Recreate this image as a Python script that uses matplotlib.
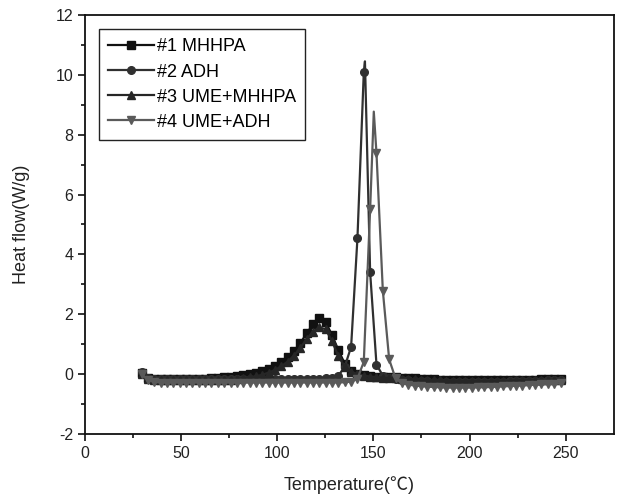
# DSC curves of four curing systems (heat flow vs temperature)

import matplotlib.pyplot as plt

# fonts
plt.rcParams['font.family'] = ['Liberation Sans', 'Noto Sans CJK SC', 'DejaVu Sans']
plt.rcParams['axes.unicode_minus'] = False

# temperature of each measured point (shared by all curves)
temperature = [
    29.5, 32.8, 36.1, 39.4, 42.7, 46.0, 49.3, 52.6, 55.9, 59.2,
    62.5, 65.8, 69.1, 72.4, 75.7, 79.0, 82.3, 85.6, 88.9, 92.2,
    95.5, 98.8, 102.1, 105.4, 108.7, 112.0, 115.3, 118.6, 121.9, 125.2,
    128.5, 131.8, 135.1, 138.4, 141.7, 145.0, 148.3, 151.6, 154.9, 158.2,
    161.5, 164.8, 168.1, 171.4, 174.7, 178.0, 181.3, 184.6, 187.9, 191.2,
    194.5, 197.8, 201.1, 204.4, 207.7, 211.0, 214.3, 217.6, 220.9, 224.2,
    227.5, 230.8, 234.1, 237.4, 240.7, 244.0, 247.3,
]

# #1 MHHPA
mhhpa = [
    0.05, -0.12, -0.16, -0.17, -0.17, -0.17, -0.17, -0.17, -0.16, -0.16,
    -0.15, -0.14, -0.12, -0.10, -0.08, -0.05, -0.02, 0.01, 0.05, 0.10,
    0.18, 0.28, 0.40, 0.57, 0.78, 1.03, 1.37, 1.66, 1.88, 1.74,
    1.30, 0.80, 0.35, 0.10, 0.02, -0.03, -0.06, -0.08, -0.09, -0.10,
    -0.11, -0.12, -0.13, -0.14, -0.15, -0.16, -0.17, -0.18, -0.19, -0.20,
    -0.20, -0.21, -0.21, -0.21, -0.21, -0.21, -0.20, -0.20, -0.20, -0.19,
    -0.19, -0.18, -0.18, -0.17, -0.17, -0.16, -0.16,
]

# #2 ADH (apex point added between 145.0 and 148.3)
adh_temperature = temperature[:36] + [145.6] + temperature[36:]
adh = [
    0.08, -0.12, -0.15, -0.16, -0.16, -0.16, -0.16, -0.16, -0.16, -0.16,
    -0.16, -0.16, -0.16, -0.16, -0.16, -0.16, -0.16, -0.16, -0.16, -0.16,
    -0.16, -0.16, -0.16, -0.16, -0.16, -0.16, -0.16, -0.15, -0.15, -0.14,
    -0.12, -0.05, 0.25, 0.91, 4.54, 10.09, 10.45, 3.40, 0.32, -0.05,
    -0.12, -0.16, -0.18, -0.20, -0.22, -0.23, -0.24, -0.25, -0.26, -0.26,
    -0.27, -0.27, -0.27, -0.27, -0.27, -0.26, -0.26, -0.25, -0.25, -0.24,
    -0.24, -0.23, -0.23, -0.22, -0.22, -0.21, -0.21, -0.20,
]
adh_markers = list(range(36)) + list(range(37, 68))

# #3 UME+MHHPA
ume_mhhpa = [
    0.00, -0.15, -0.19, -0.20, -0.20, -0.20, -0.20, -0.20, -0.20, -0.20,
    -0.20, -0.20, -0.20, -0.19, -0.18, -0.16, -0.14, -0.11, -0.07, -0.02,
    0.05, 0.14, 0.26, 0.42, 0.62, 0.88, 1.17, 1.42, 1.56, 1.50,
    1.10, 0.60, 0.25, 0.08, 0.00, -0.05, -0.08, -0.10, -0.12, -0.13,
    -0.14, -0.15, -0.16, -0.17, -0.18, -0.19, -0.20, -0.21, -0.22, -0.22,
    -0.23, -0.23, -0.23, -0.23, -0.23, -0.23, -0.22, -0.22, -0.22, -0.21,
    -0.21, -0.21, -0.20, -0.20, -0.20, -0.19, -0.19,
]

# #4 UME+ADH (apex point added between 148.3 and 151.6)
ume_adh_temperature = temperature[:37] + [150.2] + temperature[37:]
ume_adh = [
    0.00, -0.20, -0.26, -0.28, -0.28, -0.28, -0.28, -0.28, -0.28, -0.28,
    -0.28, -0.28, -0.28, -0.28, -0.28, -0.28, -0.28, -0.28, -0.28, -0.28,
    -0.28, -0.28, -0.28, -0.28, -0.28, -0.28, -0.28, -0.28, -0.28, -0.28,
    -0.28, -0.28, -0.27, -0.25, -0.15, 0.41, 5.51, 8.77, 7.38, 2.79,
    0.49, -0.14, -0.30, -0.35, -0.38, -0.40, -0.42, -0.43, -0.44, -0.45,
    -0.45, -0.45, -0.45, -0.45, -0.44, -0.44, -0.43, -0.42, -0.41, -0.40,
    -0.39, -0.38, -0.37, -0.35, -0.34, -0.33, -0.32, -0.31,
]
ume_adh_markers = list(range(37)) + list(range(38, 68))

# crear figura
fig = plt.figure(figsize=(6.2, 4.98), dpi=100)
ax = fig.add_axes([0.137, 0.1285, 0.853, 0.8415])

ax.plot(
    temperature, mhhpa,
    color="#111111", lw=1.6,
    marker="s", markersize=5.5,
    label="#1 MHHPA"
)
ax.plot(
    adh_temperature, adh,
    color="#303030", lw=1.6,
    marker="o", markersize=5.5, markevery=adh_markers,
    label="#2 ADH"
)
ax.plot(
    temperature, ume_mhhpa,
    color="#262626", lw=1.6,
    marker="^", markersize=6,
    label="#3 UME+MHHPA"
)
ax.plot(
    ume_adh_temperature, ume_adh,
    color="#5a5a5a", lw=1.6,
    marker="v", markersize=6, markevery=ume_adh_markers,
    label="#4 UME+ADH"
)

# limites
ax.set_xlim(0, 275)
ax.set_ylim(-2, 12)
ax.set_xticks([0, 50, 100, 150, 200, 250])
ax.set_xticks([25, 75, 125, 175, 225], minor=True)
ax.set_yticks([-2, 0, 2, 4, 6, 8, 10, 12])
ax.set_yticks([-1, 1, 3, 5, 7, 9, 11], minor=True)

# ticks
ax.tick_params(which="major", direction="out", length=5, width=1.2,
               labelsize=11.5, color="#111111", labelcolor="#222222")
ax.tick_params(which="minor", direction="out", length=3, width=1.2,
               color="#111111")
for spine in ax.spines.values():
    spine.set_linewidth(1.3)
    spine.set_color("#111111")

# etiquetas
ax.set_xlabel("Temperature(℃)", fontsize=13, color="#222222", labelpad=11)
ax.set_ylabel("Heat flow(W/g)", fontsize=13, color="#222222", labelpad=18)

# leyenda
leg = ax.legend(
    loc="upper left",
    fontsize=13,
    handlelength=2.5,
    handletextpad=0.2,
    labelspacing=0.45,
    borderaxespad=0.8,
    borderpad=0.5,
    fancybox=False,
    edgecolor="#222222",
    framealpha=1,
)
leg.get_frame().set_linewidth(1.0)

fig.savefig("out.png", dpi=100)
